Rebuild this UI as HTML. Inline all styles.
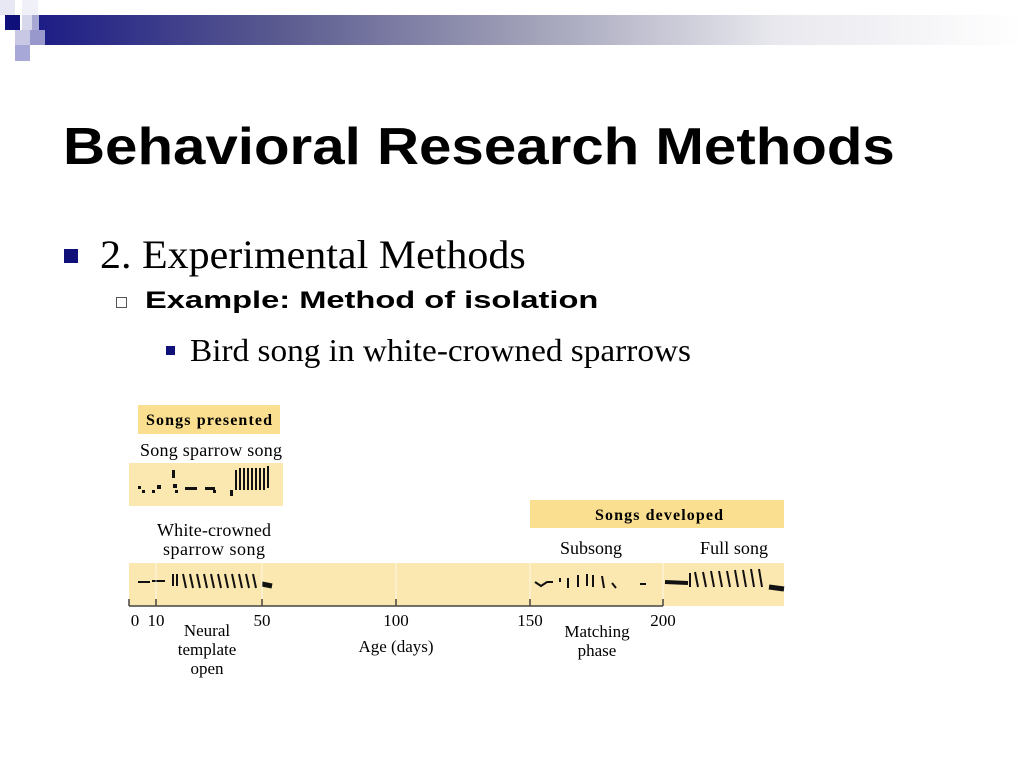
<!DOCTYPE html>
<html><head><meta charset="utf-8"><style>
body{margin:0;width:1024px;height:768px;background:#fff;overflow:hidden;position:relative;font-family:"Liberation Sans",sans-serif}
.a{position:absolute;white-space:nowrap;transform-origin:0 0}
</style></head><body>
<div class="a" style="left:30px;top:15px;width:994px;height:30px;background:linear-gradient(90deg,#1a1a85 0%,#5a5a90 25%,#a0a0b8 50%,#e8e8ee 75%,#fff 100%)"></div>
<div class="a" style="left:5px;top:15px;width:15px;height:15px;background:#10107a"></div>
<div class="a" style="left:0;top:0;width:15px;height:15px;background:#e8e8f4"></div>
<div class="a" style="left:22px;top:0;width:16px;height:15px;background:#f0f0f8"></div>
<div class="a" style="left:22px;top:15px;width:10px;height:15px;background:#d8d8ec"></div>
<div class="a" style="left:32px;top:15px;width:7px;height:15px;background:#a8a8d4"></div>
<div class="a" style="left:15px;top:30px;width:15px;height:15px;background:#c8c8e4"></div>
<div class="a" style="left:30px;top:30px;width:15px;height:15px;background:#9898cc"></div>
<div class="a" style="left:15px;top:45px;width:15px;height:16px;background:#a8a8d8"></div>
<div class="a" style="left:63px;top:117px;font-size:52px;font-weight:bold;color:#000;transform:scaleX(1.12)">Behavioral Research Methods</div>
<div class="a" style="left:64px;top:249px;width:14px;height:14px;background:#10107a"></div>
<div class="a" style="left:100px;top:231px;font-family:'Liberation Serif',serif;font-size:40px;transform:scaleX(1.05)">2. Experimental Methods</div>
<div class="a" style="left:116px;top:297px;width:11px;height:11px;border:1px solid #555;box-sizing:border-box"></div>
<div class="a" style="left:145px;top:287px;font-size:24px;font-weight:bold;transform:scaleX(1.36)">Example: Method of isolation</div>
<div class="a" style="left:166px;top:346px;width:9px;height:9px;background:#10107a"></div>
<div class="a" style="left:190px;top:332px;font-family:'Liberation Serif',serif;font-size:32px;transform:scaleX(1.04)">Bird song in white-crowned sparrows</div>
<svg class="a" style="left:0;top:0" width="1024" height="768" font-family="Liberation Serif,serif" font-size="18">
<rect x="138" y="405" width="142" height="29" fill="#fbdf90"/>
<text x="209" y="425" text-anchor="middle" font-weight="bold" font-size="16" textLength="126">Songs presented</text>
<text x="211" y="456" text-anchor="middle" textLength="142">Song sparrow song</text>
<rect x="129" y="463" width="154" height="43" fill="#fbe7b0"/>
<g fill="#111"><rect x="138" y="486" width="3" height="3"/><rect x="142" y="490" width="3" height="3"/><rect x="157" y="485" width="4" height="4"/><rect x="152" y="490" width="3" height="3"/><rect x="172" y="470" width="3" height="8"/><rect x="173" y="484" width="4" height="4"/><rect x="175" y="490" width="3" height="3"/><rect x="185" y="487" width="12" height="3"/><rect x="205" y="487" width="10" height="3"/><rect x="213" y="490" width="3" height="3"/><rect x="230" y="490" width="3" height="6"/></g>
<g stroke="#111" stroke-width="2"><path d="M236 470v20M240 468v22M244 468v22M248 468v22M252 468v22M256 468v22M260 468v22M264 468v22M268 466v22" fill="none"/></g>
<text x="214" y="536" text-anchor="middle" textLength="114">White-crowned</text>
<text x="214" y="555" text-anchor="middle" textLength="102">sparrow song</text>
<rect x="530" y="500" width="254" height="28" fill="#fbdf90"/>
<text x="659" y="520" text-anchor="middle" font-weight="bold" font-size="16" textLength="128">Songs developed</text>
<text x="591" y="554" text-anchor="middle" textLength="62">Subsong</text>
<text x="734" y="554" text-anchor="middle" textLength="68">Full song</text>
<rect x="129" y="563" width="655" height="43" fill="#fbe7b0"/>
<g stroke="#111" stroke-width="2"><line x1="138" y1="582" x2="150" y2="582"/><line x1="152" y1="581" x2="165" y2="581"/>
<path d="M173 574v12M177 574v12M183 574l3 14M190 574l3 14M197 574l3 14M204 574l3 14M211 574l3 14M218 574l3 14M225 574l3 14M232 574l3 14M239 574l3 14M246 574l3 14M253 574l3 14" fill="none"/>
<line x1="262" y1="584" x2="272" y2="586" stroke-width="5"/>
<path d="M535 582l6 4 6-4h6M560 578v4M568 578v10M578 575v12M587 574v12M593 575v12M602 576l2 12M612 583l4 5M640 584h6" fill="none"/>
<line x1="665" y1="582" x2="688" y2="583" stroke-width="4"/>
<path d="M690 573v14M695 572l3 15M703 572l3 15M711 571l3 16M719 571l3 16M727 571l3 16M735 570l3 17M743 570l3 17M751 569l3 18M759 569l3 18" fill="none"/>
<line x1="769" y1="587" x2="784" y2="589" stroke-width="5"/></g>
<g stroke="#fff" stroke-width="1" opacity="0.7"><line x1="156" y1="563" x2="156" y2="606"/><line x1="262" y1="563" x2="262" y2="606"/><line x1="396" y1="563" x2="396" y2="606"/><line x1="530" y1="563" x2="530" y2="606"/><line x1="663" y1="563" x2="663" y2="606"/></g>
<g stroke="#444" stroke-width="1.5"><line x1="129" y1="606" x2="663" y2="606"/><path d="M129 599v7M156 599v7M262 599v7M396 599v7M530 599v7M663 599v7"/></g>
<g text-anchor="middle" font-size="17"><text x="135" y="626">0</text><text x="156" y="626">10</text><text x="262" y="626">50</text><text x="396" y="626">100</text><text x="530" y="626">150</text><text x="663" y="626">200</text>
<text x="207" y="636">Neural</text><text x="207" y="655">template</text><text x="207" y="674">open</text>
<text x="396" y="652">Age (days)</text>
<text x="597" y="637">Matching</text><text x="597" y="656">phase</text></g>
</svg>
</body></html>
